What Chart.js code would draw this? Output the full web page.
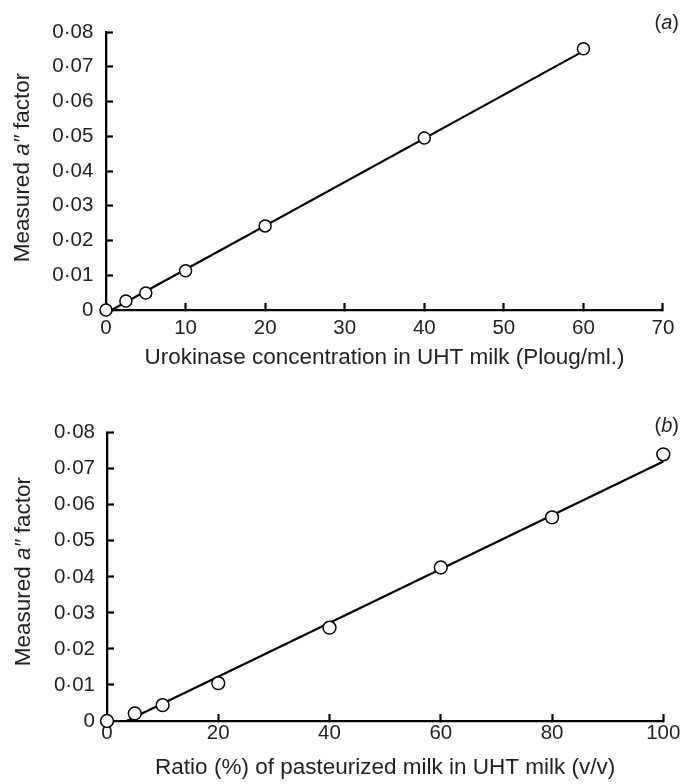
<!DOCTYPE html>
<html>
<head>
<meta charset="utf-8">
<script src="https://cdn.jsdelivr.net/npm/chart.js@4/dist/chart.umd.min.js"></script>
<style>
    body { margin: 0; background: #fff; }
    #holder { position: relative; width: 687px; height: 784px; }
    .panel { position: absolute; left: 0; width: 687px; }
</style>
</head>
<body>
<div id="holder">
    <div class="panel" style="top:0px;height:390px;"><canvas id="c1" width="687" height="390"></canvas></div>
    <div class="panel" style="top:390px;height:394px;"><canvas id="c2" width="687" height="394"></canvas></div>
</div>
<script>
// panel (a): urokinase added to UHT milk
var concA = [0, 2.5, 5, 10, 20, 40, 60];
var factorA = [0, 0.0026, 0.0049, 0.0113, 0.0242, 0.0495, 0.0752];
var fitXA = [0.7, 60];
var fitYA = [0, 0.0745];

// panel (b): pasteurized milk mixed into UHT milk
var ratioB = [0, 5, 10, 20, 40, 60, 80, 100];
var factorB = [0, 0.0021, 0.0044, 0.0105, 0.0259, 0.0426, 0.0565, 0.0740];
var fitXB = [3.5, 100];
var fitYB = [0, 0.072];

var yTicks = [0, 0.01, 0.02, 0.03, 0.04, 0.05, 0.06, 0.07, 0.08];

var FONT = "'Liberation Sans', Arial, Helvetica, sans-serif";
var INK = "#231f20";

function pairs(xs, ys) {
    let out = [];
    for(let i=0; i<xs.length; i++)
        out.push({x: xs[i], y: ys[i]});
    return out;
}

function yLabel(v) {
    if(v == 0) return "0";
    return v.toFixed(2).replace(".", "\u00b7");
}

// y title with italic a, and the panel letter
var extraText = {
    id: "extraText",
    afterDraw(chart, args, opts) {
        let ctx = chart.ctx;
        let parts = [["Measured ", "normal"], ["a\u2033", "italic"], [" factor", "normal"]];
        ctx.save();
        ctx.fillStyle = INK;
        ctx.textBaseline = "middle";
        ctx.textAlign = "left";
        let total = 0;
        for(let i=0; i<parts.length; i++) {
            ctx.font = parts[i][1] + " 22.5px " + FONT;
            total += ctx.measureText(parts[i][0]).width;
        }
        ctx.translate(opts.titleX, opts.titleY);
        ctx.rotate(-Math.PI / 2);
        let x = -total / 2;
        for(let i=0; i<parts.length; i++) {
            ctx.font = parts[i][1] + " 22.5px " + FONT;
            ctx.fillText(parts[i][0], x, 0);
            x += ctx.measureText(parts[i][0]).width;
        }
        ctx.restore();

        ctx.save();
        ctx.fillStyle = INK;
        ctx.textBaseline = "middle";
        ctx.textAlign = "left";
        let bits = [["(", "normal"], [opts.letter, "italic"], [")", "normal"]];
        let w = 0;
        for(let i=0; i<bits.length; i++) {
            ctx.font = bits[i][1] + " 20px " + FONT;
            w += ctx.measureText(bits[i][0]).width;
        }
        let lx = opts.letterX - w;
        for(let i=0; i<bits.length; i++) {
            ctx.font = bits[i][1] + " 20px " + FONT;
            ctx.fillText(bits[i][0], lx, opts.letterY);
            lx += ctx.measureText(bits[i][0]).width;
        }
        ctx.restore();
    }
};

function makeChart(canvas, cfg) {
    return new Chart(canvas, {
        type: "scatter",
        data: {
            datasets: [{
                data: pairs(cfg.xs, cfg.ys),
                showLine: false,
                pointRadius: cfg.radius,
                pointHoverRadius: cfg.radius,
                pointBorderWidth: 1.5,
                pointBorderColor: "#000",
                pointBackgroundColor: "#fff",
                clip: false
            }, {
                data: pairs(cfg.fitX, cfg.fitY),
                showLine: true,
                pointRadius: 0,
                borderColor: "#000",
                borderWidth: 2.2,
                clip: false
            }]
        },
        options: {
            responsive: false,
            animation: false,
            events: [],
            layout: {
                autoPadding: false,
                padding: {left: 0, top: cfg.top, right: cfg.right, bottom: 0}
            },
            plugins: {
                legend: {display: false},
                tooltip: {enabled: false},
                extraText: {titleX: cfg.titleX, titleY: cfg.titleY, letter: cfg.letter, letterX: 679, letterY: cfg.letterY}
            },
            scales: {
                x: {
                    type: "linear",
                    min: 0,
                    max: cfg.xMax,
                    afterFit: (s) => { s.height = cfg.xHeight; },
                    afterBuildTicks: (s) => { s.ticks = cfg.xTicks.map((v) => ({value: v})); },
                    border: {display: true, color: "#000", width: 2.3},
                    grid: {display: true, drawOnChartArea: false, drawTicks: true, tickLength: -7, tickWidth: 2.2, tickColor: "#000"},
                    ticks: {
                        color: INK,
                        padding: cfg.xPad,
                        maxRotation: 0,
                        font: {family: FONT, size: 20.5}
                    },
                    title: {
                        display: true,
                        text: cfg.xTitle,
                        color: INK,
                        font: {family: FONT, size: 22.5},
                        padding: {top: 0, bottom: cfg.xTitlePad}
                    }
                },
                y: {
                    type: "linear",
                    min: 0,
                    max: 0.08,
                    afterFit: (s) => { s.width = cfg.yWidth; },
                    afterBuildTicks: (s) => { s.ticks = yTicks.map((v) => ({value: v})); },
                    border: {display: true, color: "#000", width: 2.3},
                    grid: {display: true, drawOnChartArea: false, drawTicks: true, tickLength: -7, tickWidth: 2.2, tickColor: "#000"},
                    ticks: {
                        color: INK,
                        padding: cfg.yPad,
                        font: {family: FONT, size: 20.5},
                        callback: (v) => yLabel(v)
                    }
                }
            }
        },
        plugins: [extraText]
    });
}

function start() {
    makeChart(document.getElementById("c1"), {
        xs: concA, ys: factorA, fitX: fitXA, fitY: fitYA,
        radius: 6.0, xMax: 70, xTicks: [0, 10, 20, 30, 40, 50, 60, 70],
        top: 29, right: 18, xHeight: 80, yWidth: 106,
        xPad: 12.6, yPad: 19.7, xTitlePad: 18.4,
        xTitle: "Urokinase concentration in UHT milk (Ploug/ml.)",
        titleX: 23, titleY: 167.5, letter: "a", letterY: 23
    });

    makeChart(document.getElementById("c2"), {
        xs: ratioB, ys: factorB, fitX: fitXB, fitY: fitYB,
        radius: 6.4, xMax: 100, xTicks: [0, 20, 40, 60, 80, 100],
        top: 42.7, right: 18.7, xHeight: 63, yWidth: 107,
        xPad: 6.6, yPad: 19, xTitlePad: 2.4,
        xTitle: "Ratio (%) of pasteurized milk in UHT milk (v/v)",
        titleX: 24, titleY: 181.7, letter: "b", letterY: 36.5
    });
}

start();
</script>
</body>
</html>
